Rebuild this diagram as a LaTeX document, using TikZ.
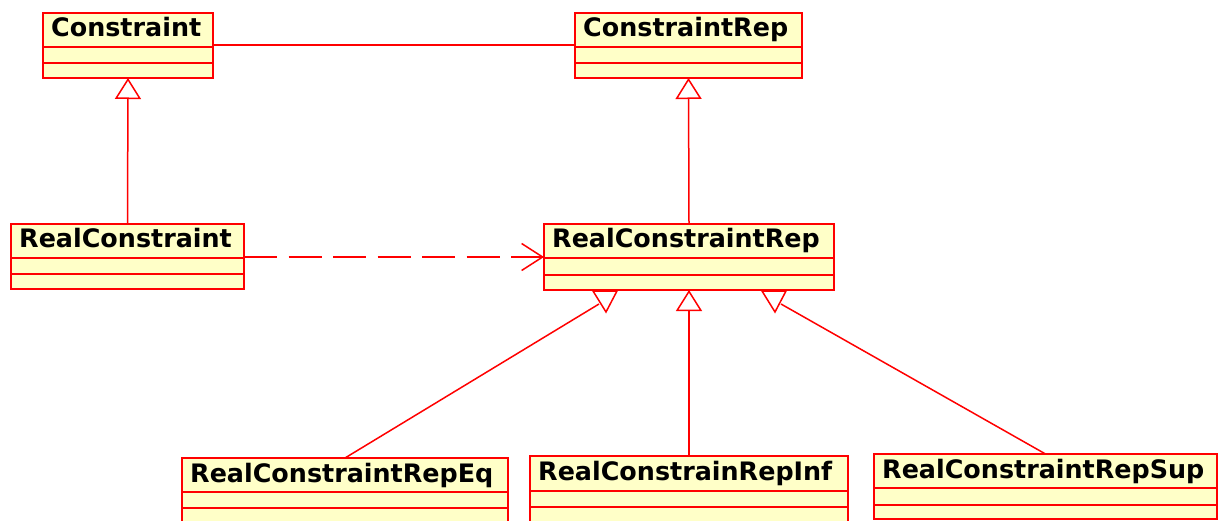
\documentclass[tikz,border=0pt]{standalone}
\usepackage{fontspec}
\setmainfont{DejaVu Sans}
\usetikzlibrary{arrows.meta,calc}
\definecolor{umlred}{RGB}{255,0,0}
\definecolor{umlfill}{RGB}{255,255,200}
\newcommand\umlclass[8]{% name, x1, y1, x2, y2, d1, d2, text
  \pgfmathsetmacro\umlw{#4-#2}\pgfmathsetmacro\umlh{#5-#3}%
  \node[classbox, minimum width=\umlw pt, minimum height=\umlh pt] (#1) at (#2,#3) {};
  \draw[umlline] (#2,#6) -- (#4,#6) (#2,#7) -- (#4,#7);
  \node[classname] (#1-label) at (#2+8,#3+24) {#8};
}
\begin{document}
\begin{tikzpicture}[x=1pt,y=-1pt,
  umlline/.style={draw=umlred, line width=1.5pt},
  classbox/.style={draw=umlred, fill=umlfill, line width=1.5pt, inner sep=0pt, outer sep=0pt, rectangle, anchor=north west},
  classname/.style={anchor=base west, inner sep=0pt, font=\fontsize{25.4}{30}\selectfont\bfseries, text=black},
  inherit/.style={-{Triangle[open, length=21pt, width=26pt, fill=white]}},
  dep/.style={dash pattern=on 33pt off 11.5pt, -{Straight Barb[length=21pt, width=27pt]}},
  flipped/.style={draw=umlred, line width=1.5pt, fill=white}
]
\useasboundingbox (0,0) rectangle (1220,521);
\umlclass{c1}{43}{13}{213}{78}{47}{63}{Constraint}
\umlclass{c2}{575}{13}{802}{78}{47}{63}{ConstraintRep}
\umlclass{rc}{11}{224}{244}{289}{258}{274}{RealConstraint}
\umlclass{rcr}{544}{224}{834}{290}{258}{275}{RealConstraintRep}
\umlclass{eq}{182}{458}{508}{525}{492}{508}{RealConstraintRepEq}
\umlclass{inf}{530}{456}{848}{523}{491}{507}{RealConstrainRepInf}
\umlclass{sup}{874}{454}{1217}{519}{488}{505}{RealConstraintRepSup}

\draw[umlline] ($(c1.north east)+(0,32)$) -- ($(c2.north west)+(0,32)$);
\draw[umlline, inherit] (rc.north) -- (c1.south);
\draw[umlline, inherit] (rcr.north) -- (c2.south);
\draw[umlline, inherit] (inf.north) -- (rcr.south);
\draw[umlline, dep] ($(rc.north east)+(0,33)$) -- ($(rcr.north west)+(0,33)$);

% inverted generalization triangles (as drawn in the reference)
\coordinate (tl1) at (593,291); \coordinate (tl2) at (617,291); \coordinate (tl3) at (606,312);
\coordinate (tr1) at (762,291); \coordinate (tr2) at (786,291); \coordinate (tr3) at (775,312);
\coordinate (el) at (599,304);
\coordinate (er) at (781,304);
\draw[umlline] (eq.north) -- (el);
\draw[umlline] (sup.north) -- (er);
\draw[flipped] (tl1) -- (tl2) -- (tl3) -- cycle;
\draw[flipped] (tr1) -- (tr2) -- (tr3) -- cycle;
\end{tikzpicture}
\end{document}
